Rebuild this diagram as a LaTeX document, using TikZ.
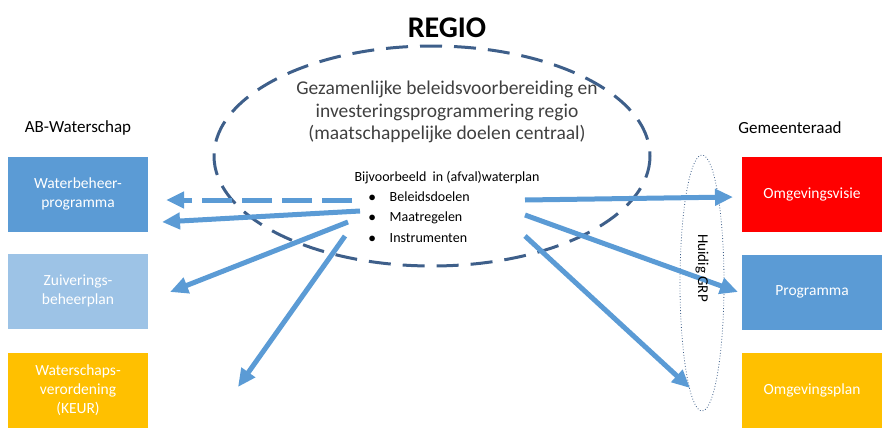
\documentclass[tikz,border=0pt]{standalone}
\usepackage{fontspec}
\setmainfont{Carlito}
\usetikzlibrary{arrows.meta}
\definecolor{boxblue}{RGB}{91,155,213}
\definecolor{lightblue}{RGB}{157,195,230}
\definecolor{orangebox}{RGB}{255,192,0}
\definecolor{ringblue}{RGB}{62,95,138}
\tikzset{
  plan/.style={minimum width=140pt,minimum height=75pt,inner sep=0pt,text=white,align=center,font=\fontsize{15.5}{19}\selectfont},
  pijl/.style={line width=5pt,color=boxblue,-{Triangle[length=18pt,width=16pt]}},
  kop/.style={font=\fontsize{17}{20}\selectfont}
}
\begin{document}
\begin{tikzpicture}[x=1pt,y=-1pt]
	\useasboundingbox (0,0) rectangle (896,439);
	\draw[ringblue,line width=3pt,dash pattern=on 22pt off 12pt] (432,156) ellipse [x radius=218,y radius=110];
	\node[font=\bfseries\fontsize{30}{34}\selectfont] (regio) at (447,28) {REGIO};
	\node[align=center,text=black!75,font=\fontsize{19.5}{22.5}\selectfont] (doel) at (447,112) {Gezamenlijke beleidsvoorbereiding en\\investeringsprogrammering regio\\(maatschappelijke doelen centraal)};
	\node[font=\fontsize{14}{16}\selectfont] (plan) at (447,178) {Bijvoorbeeld \ in (afval)waterplan};
	\node[anchor=west,align=left,font=\fontsize{14}{20.5}\selectfont] (items) at (365,217) {$\bullet$\quad Beleidsdoelen\\$\bullet$\quad Maatregelen\\$\bullet$\quad Instrumenten};
	% waterschap
	\node[kop] (ab) at (78,128) {AB-Waterschap};
	\node[plan,fill=boxblue] (wbp) at (78,194) {Waterbeheer-\\programma};
	\node[plan,fill=lightblue] (zbp) at (78,291) {Zuiverings-\\beheerplan};
	\node[plan,fill=orangebox] (keur) at (78,390) {Waterschaps-\\verordening\\(KEUR)};
	% gemeente
	\node[kop] (gr) at (790,128) {Gemeenteraad};
	\node[plan,fill=red] (visie) at (812,194) {Omgevingsvisie};
	\node[plan,fill=boxblue] (prog) at (812,292) {Programma};
	\node[plan,fill=orangebox] (oplan) at (812,390) {Omgevingsplan};
	\draw[dotted,thick,ringblue] (702,283) ellipse [x radius=22,y radius=128];
	% pijlen
	\coordinate (s1) at (352,200); \coordinate (e1) at (166,200);
	\coordinate (s2) at (360,211); \coordinate (e2) at (162,222);
	\coordinate (s3) at (348,222); \coordinate (e3) at (170,292);
	\coordinate (s4) at (345,236); \coordinate (e4) at (238,387);
	\coordinate (s5) at (525,200); \coordinate (e5) at (733,197);
	\coordinate (s6) at (525,215); \coordinate (e6) at (738,292);
	\coordinate (s7) at (525,236); \coordinate (e7) at (690,388);
	\draw[pijl,dash pattern=on 30pt off 10pt] (s1) -- (e1);
	\draw[pijl] (s2) -- (e2);
	\draw[pijl] (s3) -- (e3);
	\draw[pijl] (s4) -- (e4);
	\draw[pijl] (s5) -- (e5);
	\draw[pijl] (s6) -- (e6);
	\draw[pijl] (s7) -- (e7);
	\node[rotate=-90,font=\fontsize{15}{18}\selectfont] (grp) at (702,268) {Huidig GRP};
\end{tikzpicture}
\end{document}
